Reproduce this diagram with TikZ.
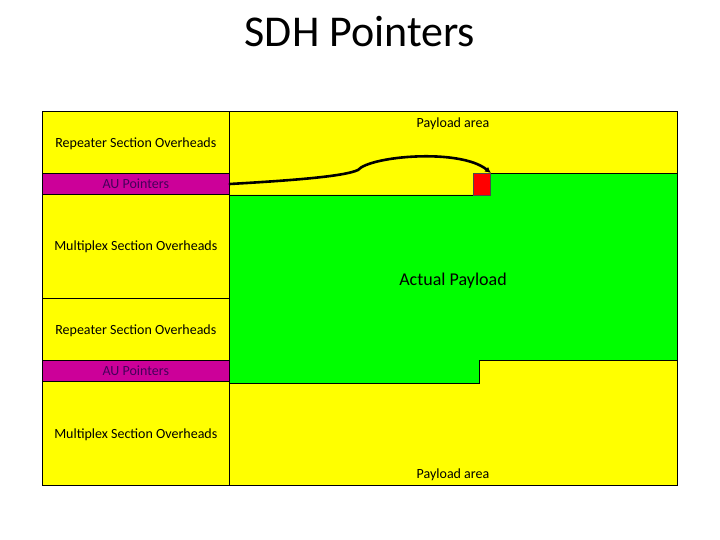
\documentclass[tikz,border=0pt]{standalone}
\usepackage{fontspec}
\setmainfont{Carlito}
\usetikzlibrary{arrows.meta}
\definecolor{areayellow}{RGB}{255,255,0}
\definecolor{loadgreen}{RGB}{0,255,0}
\definecolor{aumagenta}{RGB}{204,0,153}
\definecolor{autext}{RGB}{70,0,90}
\definecolor{ptrred}{RGB}{255,0,0}
\begin{document}
\begin{tikzpicture}[x=1pt,y=-1pt,
    title/.style={font=\fontsize{44}{48}\selectfont, anchor=base},
    label/.style={font=\fontsize{14}{16}\selectfont, anchor=base, inner sep=0pt},
    biglabel/.style={font=\fontsize{18}{20}\selectfont, anchor=base, inner sep=0pt},
    aubox/.style={draw=black, line width=0.8pt, fill=aumagenta, text=autext,
        minimum width=187pt, minimum height=21pt, inner sep=0pt,
        font=\fontsize{14}{16}\selectfont},
    ptrbox/.style={draw=black!70, line width=0.6pt, fill=ptrred,
        minimum width=17.4pt, minimum height=21.7pt, inner sep=0pt},
    frame/.style={draw=black, line width=0.8pt},
    ptrline/.style={line width=2.6pt, line cap=round, -{Latex[length=6pt,width=6pt]}}]
    \useasboundingbox (0,0) rectangle (720,540);
    \node[title] (head) at (360,47) {SDH Pointers};
    % frame and the overhead column
    \draw[frame, fill=areayellow] (42.3,111.7) rectangle (677,485);
    \draw[frame] (229.3,111.7) -- (229.3,485);
    \draw[frame] (42.3,298.3) -- (229.3,298.3);
    % the payload, shifted by the pointer
    \draw[frame, fill=loadgreen] (229.3,195) -- (490.7,195) -- (490.7,173.3)
        -- (677,173.3) -- (677,360.7) -- (479.3,360.7) -- (479.3,383.3)
        -- (229.3,383.3) -- cycle;
    \node[aubox] (au1) at (135.8,184) {AU Pointers};
    \node[aubox] (au2) at (135.8,370.5) {AU Pointers};
    \node[ptrbox] (ptr) at (482,184.2) {};
    \draw[ptrline] (au1.east) .. controls (300,180) and (345,176) .. (358,170)
        .. controls (370,156) and (460,148) .. (ptr.north east);
    % texts
    \node[label] (rso1) at (135.8,147.3) {Repeater Section Overheads};
    \node[label] (mso1) at (135.8,251) {Multiplex Section Overheads};
    \node[label] (rso2) at (135.8,334.3) {Repeater Section Overheads};
    \node[label] (mso2) at (135.8,438) {Multiplex Section Overheads};
    \node[label] (pa1) at (453,127.3) {Payload area};
    \node[label] (pa2) at (453,478) {Payload area};
    \node[biglabel] (load) at (453,285) {Actual Payload};
\end{tikzpicture}
\end{document}
